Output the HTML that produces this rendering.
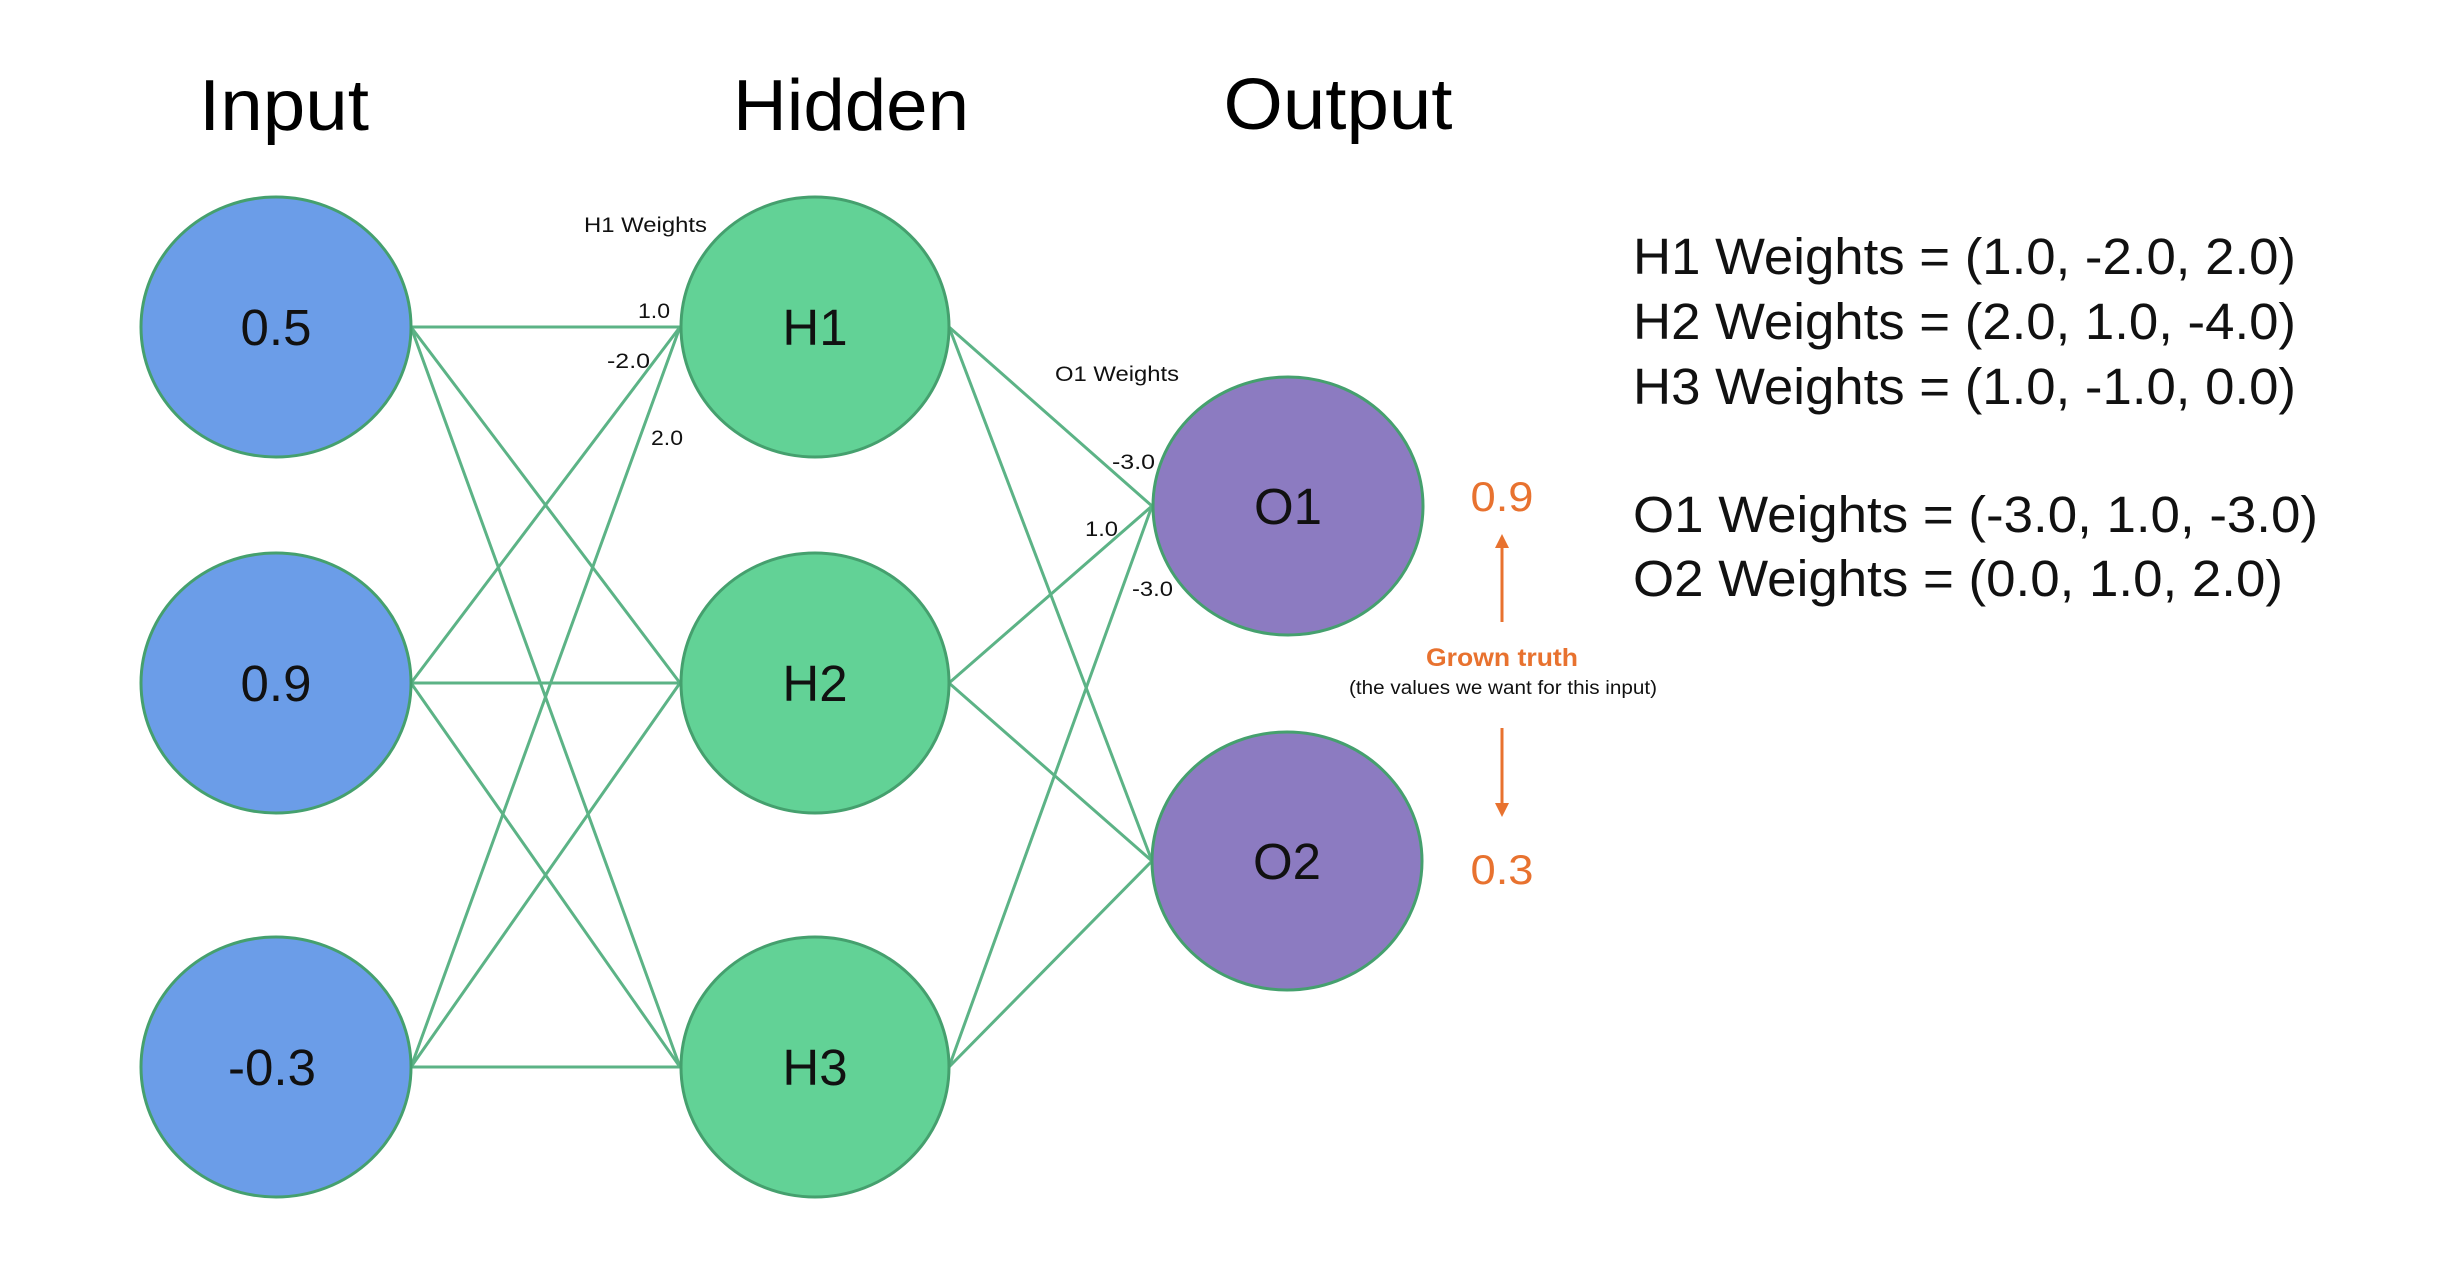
<!DOCTYPE html>
<html><head><meta charset="utf-8"><style>
html,body{margin:0;padding:0;background:#fff;}
svg{display:block;}
text{font-family:"Liberation Sans",sans-serif;}
</style></head><body>
<svg width="2461" height="1284" viewBox="0 0 2461 1284" xmlns="http://www.w3.org/2000/svg">
<rect width="2461" height="1284" fill="#fff"/>
<!-- titles -->
<text x="284" y="130" font-size="72" text-anchor="middle" textLength="170" lengthAdjust="spacingAndGlyphs">Input</text>
<text x="851" y="130" font-size="72" text-anchor="middle" textLength="236" lengthAdjust="spacingAndGlyphs">Hidden</text>
<text x="1338" y="129" font-size="72" text-anchor="middle" textLength="229" lengthAdjust="spacingAndGlyphs">Output</text>
<!-- edges -->
<g stroke="#5CB386" stroke-width="3" fill="none">
<line x1="411" y1="327" x2="680" y2="327"/>
<line x1="411" y1="327" x2="680" y2="683"/>
<line x1="411" y1="327" x2="680" y2="1067"/>
<line x1="411" y1="683" x2="680" y2="327"/>
<line x1="411" y1="683" x2="680" y2="683"/>
<line x1="411" y1="683" x2="680" y2="1067"/>
<line x1="411" y1="1067" x2="680" y2="327"/>
<line x1="411" y1="1067" x2="680" y2="683"/>
<line x1="411" y1="1067" x2="680" y2="1067"/>
<line x1="949" y1="327" x2="1152" y2="506"/>
<line x1="949" y1="327" x2="1152" y2="861"/>
<line x1="949" y1="683" x2="1152" y2="506"/>
<line x1="949" y1="683" x2="1152" y2="861"/>
<line x1="949" y1="1067" x2="1152" y2="506"/>
<line x1="949" y1="1067" x2="1152" y2="861"/>
</g>
<!-- nodes -->
<g stroke="#45A06E" stroke-width="3">
<ellipse cx="276" cy="327" rx="135" ry="130" fill="#6B9DE8"/>
<ellipse cx="276" cy="683" rx="135" ry="130" fill="#6B9DE8"/>
<ellipse cx="276" cy="1067" rx="135" ry="130" fill="#6B9DE8"/>
<ellipse cx="815" cy="327" rx="134" ry="130" fill="#62D296"/>
<ellipse cx="815" cy="683" rx="134" ry="130" fill="#62D296"/>
<ellipse cx="815" cy="1067" rx="134" ry="130" fill="#62D296"/>
<ellipse cx="1288" cy="506" rx="135" ry="129" fill="#8C7BC1"/>
<ellipse cx="1287" cy="861" rx="135" ry="129" fill="#8C7BC1"/>
</g>
<g font-size="51" text-anchor="middle" fill="#111">
<text x="276" y="345">0.5</text>
<text x="276" y="701">0.9</text>
<text x="272" y="1085">-0.3</text>
<text x="815" y="345">H1</text>
<text x="815" y="701">H2</text>
<text x="815" y="1085">H3</text>
<text x="1288" y="524">O1</text>
<text x="1287" y="879">O2</text>
</g>
<!-- weight labels -->
<g font-size="21" fill="#111">
<text x="584" y="232" textLength="123" lengthAdjust="spacingAndGlyphs">H1 Weights</text>
<text x="638" y="318" textLength="32" lengthAdjust="spacingAndGlyphs">1.0</text>
<text x="607" y="368" textLength="43" lengthAdjust="spacingAndGlyphs">-2.0</text>
<text x="651" y="445" textLength="32" lengthAdjust="spacingAndGlyphs">2.0</text>
<text x="1055" y="381" textLength="124" lengthAdjust="spacingAndGlyphs">O1 Weights</text>
<text x="1112" y="469" textLength="43" lengthAdjust="spacingAndGlyphs">-3.0</text>
<text x="1085" y="536" textLength="33" lengthAdjust="spacingAndGlyphs">1.0</text>
<text x="1132" y="596" textLength="41" lengthAdjust="spacingAndGlyphs">-3.0</text>
</g>
<!-- ground truth -->
<g fill="#E8722F">
<text x="1502" y="511" font-size="42" text-anchor="middle" textLength="63" lengthAdjust="spacingAndGlyphs">0.9</text>
<text x="1502" y="884" font-size="42" text-anchor="middle" textLength="63" lengthAdjust="spacingAndGlyphs">0.3</text>
<text x="1502" y="666" font-size="25" font-weight="bold" text-anchor="middle" textLength="152" lengthAdjust="spacingAndGlyphs">Grown truth</text>
</g>
<text x="1503" y="694" font-size="19" text-anchor="middle" fill="#111" textLength="308" lengthAdjust="spacingAndGlyphs">(the values we want for this input)</text>
<g stroke="#E8722F" stroke-width="3">
<line x1="1502" y1="622" x2="1502" y2="546"/>
<line x1="1502" y1="728" x2="1502" y2="805"/>
</g>
<g fill="#E8722F">
<polygon points="1502,534 1495,548 1509,548"/>
<polygon points="1502,817 1495,803 1509,803"/>
</g>
<!-- weights list -->
<g font-size="51" fill="#111">
<text x="1633" y="274" textLength="663" lengthAdjust="spacingAndGlyphs">H1 Weights = (1.0, -2.0, 2.0)</text>
<text x="1633" y="339" textLength="663" lengthAdjust="spacingAndGlyphs">H2 Weights = (2.0, 1.0, -4.0)</text>
<text x="1633" y="404" textLength="663" lengthAdjust="spacingAndGlyphs">H3 Weights = (1.0, -1.0, 0.0)</text>
<text x="1633" y="532" textLength="685" lengthAdjust="spacingAndGlyphs">O1 Weights = (-3.0, 1.0, -3.0)</text>
<text x="1633" y="596" textLength="650" lengthAdjust="spacingAndGlyphs">O2 Weights = (0.0, 1.0, 2.0)</text>
</g>
</svg>
</body></html>
